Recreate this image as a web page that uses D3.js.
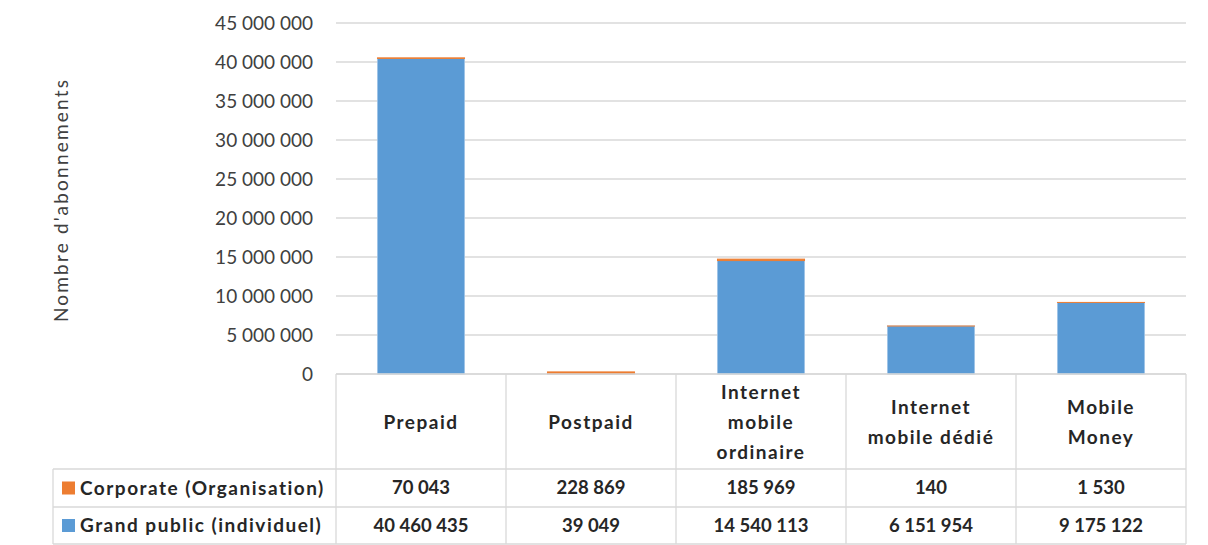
<!DOCTYPE html>
<html>
<head>
<meta charset="utf-8">
<script src="https://cdn.jsdelivr.net/npm/d3@7"></script>
<style>
  body { margin: 0; background: #fff; }
  text { font-family: Lato, "Open Sans", sans-serif; }
</style>
</head>
<body>
<div id="chart"></div>
<script>
var w = 1208, h = 545;

// data
var categories = ["Prepaid", "Postpaid", "Internet mobile ordinaire", "Internet mobile dédié", "Mobile Money"];
var categoryLines = [["Prepaid"], ["Postpaid"], ["Internet", "mobile", "ordinaire"], ["Internet", "mobile dédié"], ["Mobile", "Money"]];
var grandPublic = [40460435, 39049, 14540113, 6151954, 9175122];
var corporate = [70043, 228869, 185969, 140, 1530];
var seriesNames = ["Corporate (Organisation)", "Grand public (individuel)"];
var seriesColors = ["#ed7d31", "#5b9bd5"];
var yTicks = [0, 5000000, 10000000, 15000000, 20000000, 25000000, 30000000, 35000000, 40000000, 45000000];

var plotLeft = 336, plotRight = 1186, plotTop = 23, base = 374;
var tableLeft = 53, row1 = 469, row2 = 507, tableBottom = 544;

var svg = d3.select("#chart").append("svg")
    .attr("width", w).attr("height", h);

var x = d3.scaleBand().domain(categories).range([plotLeft, plotRight])
    .paddingInner(0.488).paddingOuter(0.244);
var y = d3.scaleLinear().domain([0, 45000000]).range([base, plotTop]);

var fmt = function (v) { return d3.format(",")(v).replace(/,/g, " "); };

// gridlines
svg.append("g").selectAll("line").data(yTicks).enter().append("line")
    .attr("x1", plotLeft).attr("x2", plotRight)
    .attr("y1", d => y(d)).attr("y2", d => y(d))
    .attr("stroke", "#d9d9d9").attr("stroke-width", 1.3);

// y axis labels
var yAxis = d3.axisLeft(y).tickValues(yTicks).tickFormat(fmt).tickSize(0).tickPadding(0);
var ya = svg.append("g").attr("transform", "translate(313,0)").call(yAxis);
ya.select(".domain").remove();
ya.selectAll("text").attr("font-size", "19px").attr("fill", "#404040")
    .style("font-family", "Lato, 'Open Sans', sans-serif");

svg.append("text")
    .attr("transform", "translate(68,200) rotate(-90)")
    .attr("text-anchor", "middle")
    .attr("font-size", "19px").attr("fill", "#404040")
    .attr("letter-spacing", "2.2px")
    .text("Nombre d'abonnements");

// stacked bars
var bars = svg.append("g");
bars.selectAll("rect.gp").data(categories).enter().append("rect")
    .attr("class", "gp")
    .attr("x", d => x(d)).attr("width", x.bandwidth())
    .attr("y", (d, i) => y(grandPublic[i]))
    .attr("height", (d, i) => base - y(grandPublic[i]))
    .attr("fill", seriesColors[1]).attr("stroke", "#9dc3e6").attr("stroke-width", 0.8);
bars.selectAll("rect.corp").data(categories).enter().append("rect")
    .attr("class", "corp")
    .attr("x", d => x(d)).attr("width", x.bandwidth())
    .attr("y", (d, i) => y(grandPublic[i] + corporate[i]))
    .attr("height", (d, i) => y(grandPublic[i]) - y(grandPublic[i] + corporate[i]))
    .attr("fill", seriesColors[0]).attr("stroke", seriesColors[0]).attr("stroke-width", 1);

// data table
var grid = svg.append("g").attr("stroke", "#d9d9d9").attr("stroke-width", 1.3);
grid.append("line").attr("x1", plotLeft).attr("x2", plotRight).attr("y1", base).attr("y2", base);
[row1, row2, tableBottom].forEach(function (ry) {
    grid.append("line").attr("x1", tableLeft).attr("x2", plotRight).attr("y1", ry).attr("y2", ry);
});
grid.append("line").attr("x1", tableLeft).attr("x2", tableLeft).attr("y1", row1).attr("y2", tableBottom);
var step = x.step();
d3.range(categories.length + 1).forEach(function (i) {
    var cx = plotLeft + i * step;
    grid.append("line").attr("x1", cx).attr("x2", cx).attr("y1", base).attr("y2", tableBottom);
});

var tcol = "#262626";
var headers = svg.append("g");
categories.forEach(function (c, i) {
    var lines = categoryLines[i];
    var cx = x(c) + x.bandwidth() / 2;
    var mid = (base + row1) / 2 + 1;
    var lh = 30;
    lines.forEach(function (t, j) {
        headers.append("text")
            .attr("x", cx).attr("y", mid + (j - (lines.length - 1) / 2) * lh)
            .attr("dy", "0.35em").attr("text-anchor", "middle")
            .attr("font-size", "19px").attr("font-weight", "bold").attr("fill", tcol)
            .attr("letter-spacing", "1.5px")
            .text(t);
    });
});

var rows = [corporate, grandPublic];
var rowY = [(row1 + row2) / 2, (row2 + tableBottom) / 2];
[0, 1].forEach(function (r) {
    svg.append("rect")
        .attr("x", 62).attr("y", rowY[r] - 6.5).attr("width", 13).attr("height", 13)
        .attr("fill", seriesColors[r]);
    svg.append("text")
        .attr("x", 80).attr("y", rowY[r]).attr("dy", "0.35em")
        .attr("font-size", "19px").attr("font-weight", "bold").attr("fill", tcol)
        .attr("letter-spacing", "1.5px")
        .text(seriesNames[r]);
    svg.append("g").selectAll("text").data(rows[r]).enter().append("text")
        .attr("x", (d, i) => x(categories[i]) + x.bandwidth() / 2)
        .attr("y", rowY[r]).attr("dy", "0.35em").attr("text-anchor", "middle")
        .attr("font-size", "18.5px").attr("font-weight", "bold").attr("fill", tcol)
        .text(d => fmt(d));
});
</script>
</body>
</html>
